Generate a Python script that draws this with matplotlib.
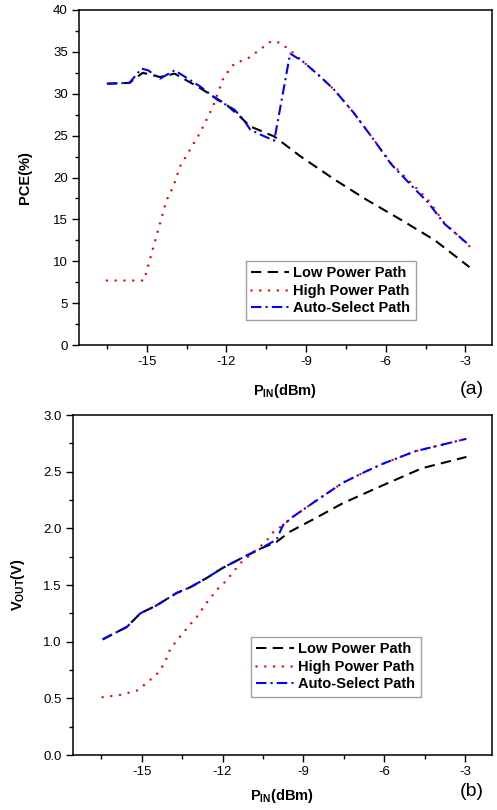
import matplotlib
matplotlib.use("Agg")
import matplotlib.pyplot as plt
from matplotlib.ticker import MultipleLocator

plt.rcParams['font.family'] = ['Liberation Sans', 'DejaVu Sans']
plt.rcParams['mathtext.fontset'] = 'custom'
plt.rcParams['mathtext.rm'] = 'Liberation Sans'
plt.rcParams['mathtext.bf'] = 'Liberation Sans:bold'
plt.rcParams['axes.unicode_minus'] = False

# ---------------- data: (a) PCE ----------------
pce_low_x = [-16.5, -15.65, -15.15, -14.5, -13.95, -13.0, -12.0, -11.5, -11.1,
             -10.2, -9.2, -7.9, -6.7, -5.4, -4.15, -2.85]
pce_low = [31.2, 31.3, 32.5, 32.0, 32.4, 30.7, 28.7, 27.3, 26.1,
           24.9, 22.5, 19.7, 17.3, 14.9, 12.5, 9.3]

pce_high_x = [-16.5, -15.1, -14.95, -14.6, -14.25, -14.0, -13.75, -13.0, -12.5,
              -12.1, -11.7, -11.2, -10.6, -10.3, -10.0, -9.6, -9.1, -8.45, -7.95,
              -7.2, -6.45, -5.8, -4.9, -4.4, -3.8, -2.85]
pce_high = [7.7, 7.7, 9.4, 13.4, 17.3, 18.9, 21.3, 25.3, 28.5,
            32.0, 33.6, 34.2, 35.6, 36.3, 36.1, 35.2, 33.8, 32.0, 30.5,
            27.7, 24.5, 21.7, 18.9, 17.3, 14.6, 11.8]

pce_auto_x = [-16.5, -15.65, -15.2, -14.95, -14.5, -13.95, -13.0, -12.35, -11.7,
              -11.35, -11.1, -10.7, -10.2, -9.6, -9.1, -8.45, -7.95, -7.2, -6.45,
              -5.8, -4.9, -4.4, -3.8, -2.85]
pce_auto = [31.2, 31.3, 33.0, 32.8, 31.8, 32.8, 30.9, 29.3, 28.1,
            26.9, 25.7, 25.1, 24.4, 34.8, 33.8, 32.0, 30.5, 27.7, 24.5,
            21.6, 18.6, 17.0, 14.5, 11.9]

# ---------------- data: (b) VOUT ----------------
v_low_x = [-16.45, -15.55, -15.05, -14.45, -13.7, -13.2, -12.6, -12.0, -11.35,
           -10.6, -10.0, -9.5, -8.55, -7.55, -6.05, -4.6, -2.95]
v_low = [1.02, 1.13, 1.25, 1.32, 1.43, 1.48, 1.56, 1.65, 1.73,
         1.82, 1.88, 1.97, 2.09, 2.22, 2.38, 2.53, 2.63]

v_high_x = [-16.45, -15.8, -15.15, -14.8, -14.45, -14.15, -13.95, -13.7, -13.35,
            -12.95, -12.6, -12.2, -11.85, -11.35, -10.85, -10.4, -10.15, -9.75,
            -9.4, -8.55, -7.55, -6.7, -6.05, -4.85, -2.95]
v_high = [0.51, 0.53, 0.57, 0.64, 0.71, 0.81, 0.93, 1.01, 1.11,
          1.22, 1.34, 1.46, 1.54, 1.69, 1.79, 1.88, 1.96, 2.03,
          2.10, 2.24, 2.40, 2.50, 2.57, 2.68, 2.79]

v_auto_x = [-16.45, -15.55, -15.05, -14.45, -13.7, -13.2, -12.6, -12.0, -11.35,
            -10.6, -10.0, -9.75, -9.4, -8.55, -7.55, -6.7, -6.05, -4.85, -2.95]
v_auto = [1.02, 1.13, 1.25, 1.32, 1.43, 1.48, 1.56, 1.65, 1.73,
          1.82, 1.90, 2.03, 2.10, 2.24, 2.40, 2.50, 2.57, 2.68, 2.79]

series_labels = ["Low Power Path", "High Power Path", "Auto-Select Path"]
x_ticks = [-15, -12, -9, -6, -3]

fig = plt.figure(figsize=(4.97, 8.10), dpi=100)
ax1 = fig.add_axes([79/497, 1-345/810, 413/497, 335/810])
ax2 = fig.add_axes([73/497, 1-755/810, 419/497, 340/810])

def style_line(ax, x, y, kind, label):
    if kind == 'low':
        ln, = ax.plot(x, y, color='black', lw=1.5, label=label)
        ln.set_dashes((5, 3))
    elif kind == 'high':
        ln, = ax.plot(x, y, color='#ff0000', lw=1.8, label=label,
                      dash_capstyle='round', solid_capstyle='round')
        ln.set_dashes((0.01, 3.5))
    else:
        ln, = ax.plot(x, y, color='#0000ff', lw=1.5, label=label)
        ln.set_dashes((5, 2, 1, 2))
    return ln

def setup(ax, ymax, ymaj, ymin_, fmt):
    ax.set_xlim(-17.55, -2.0)
    ax.set_ylim(0, ymax)
    ax.set_xticks(x_ticks)
    ax.xaxis.set_minor_locator(MultipleLocator(1.5))
    ax.yaxis.set_major_locator(MultipleLocator(ymaj))
    ax.yaxis.set_minor_locator(MultipleLocator(ymin_))
    ax.yaxis.set_major_formatter(matplotlib.ticker.FormatStrFormatter(fmt))
    ax.tick_params(which='major', direction='out', length=5, width=1, labelsize=9.5, pad=3)
    ax.tick_params(which='minor', direction='out', length=3, width=1)
    ax.tick_params(top=False, right=False)
    for s in ax.spines.values():
        s.set_linewidth(1.1)

# (a)
style_line(ax1, pce_low_x, pce_low, 'low', series_labels[0])
style_line(ax1, pce_high_x, pce_high, 'high', series_labels[1])
style_line(ax1, pce_auto_x, pce_auto, 'auto', series_labels[2])
setup(ax1, 40, 5, 2.5, '%d')
ax1.set_ylabel('PCE(%)', fontsize=10.5, fontweight='bold')
ax1.yaxis.set_label_coords(-0.114, 0.5)
ax1.set_xlabel(r'$\mathbf{P_{IN}(dBm)}$', fontsize=10.5)
ax1.xaxis.set_label_coords(0.5, -0.11)
fig.text(472/497, 1-390/810, '(a)', fontsize=14, ha='center', va='center')

# (b)
style_line(ax2, v_low_x, v_low, 'low', series_labels[0])
style_line(ax2, v_high_x, v_high, 'high', series_labels[1])
style_line(ax2, v_auto_x, v_auto, 'auto', series_labels[2])
setup(ax2, 3.0, 0.5, 0.25, '%.1f')
ax2.set_ylabel(r'$\mathbf{V_{OUT}(V)}$', fontsize=10.5)
ax2.yaxis.set_label_coords(-0.11, 0.5)
ax2.set_xlabel(r'$\mathbf{P_{IN}(dBm)}$', fontsize=10.5)
ax2.xaxis.set_label_coords(0.5, -0.095)
fig.text(472/497, 1-792/810, '(b)', fontsize=14, ha='center', va='center')

for ax, (lx, ly) in ((ax1, (246/497, 1-261/810)), (ax2, (251/497, 1-637/810))):
    leg = ax.legend(loc='upper left', bbox_to_anchor=(lx, ly),
                    bbox_transform=fig.transFigure, borderaxespad=0,
                    fancybox=False, frameon=True, handlelength=2.6,
                    handletextpad=0.3, labelspacing=0.25, borderpad=0.35,
                    prop={'weight': 'bold', 'size': 10.5})
    leg.get_frame().set_edgecolor('#888888')
    leg.get_frame().set_linewidth(1.0)

fig.savefig('out.png', dpi=100)
